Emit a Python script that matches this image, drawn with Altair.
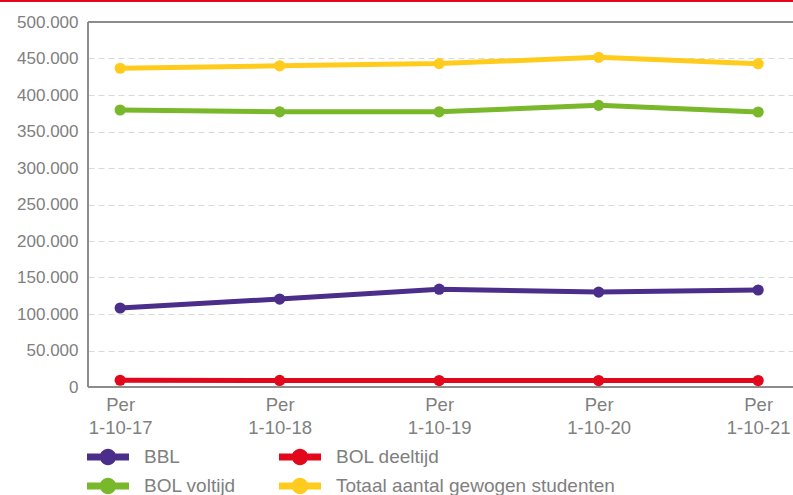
import altair as alt
import pandas as pd

# Peildata (x-as) en aantallen per onderwijsvorm
periods = ["Per 1-10-17", "Per 1-10-18", "Per 1-10-19", "Per 1-10-20", "Per 1-10-21"]
series_names = ["BBL", "BOL deeltijd", "BOL voltijd", "Totaal aantal gewogen studenten"]
bbl = [108200, 120500, 134000, 130000, 132900]
bol_deeltijd = [9200, 9000, 8800, 8800, 8800]
bol_voltijd = [379500, 377000, 377000, 385800, 376700]
totaal = [436600, 440000, 443000, 451600, 442900]
colors = ["#4b2e8a", "#e2071b", "#78b82a", "#ffcc1e"]

rows = []
for name, vals in zip(series_names, [bbl, bol_deeltijd, bol_voltijd, totaal]):
    for p, v in zip(periods, vals):
        rows.append({"periode": p, "reeks": name, "aantal": v})
df = pd.DataFrame(rows)

label_font = "Liberation Sans"
grey = "#808080"

# legend symbol: thick line with a filled dot in the middle
legend_symbol = (
    "M-1,-0.17 H1 V0.17 H-1 Z "
    "M-0.39,0 A0.39,0.39 0 1,1 0.39,0 A0.39,0.39 0 1,1 -0.39,0 Z"
)

x_enc = alt.X(
    "periode:N",
    sort=periods,
    scale=alt.Scale(type="point", padding=0.21, align=0.48),
    axis=alt.Axis(
        title=None,
        labelAngle=0,
        labelExpr="split(datum.label, ' ')",
        labelFont=label_font,
        labelFontSize=18.5,
        labelColor=grey,
        labelLineHeight=23,
        labelPadding=8,
        labelBaseline="top",
        ticks=False,
        domain=False,
        grid=False,
    ),
)
y_enc = alt.Y(
    "aantal:Q",
    scale=alt.Scale(domain=[0, 500000], nice=False),
    axis=alt.Axis(
        title=None,
        values=[0, 50000, 100000, 150000, 200000, 250000, 300000, 350000, 400000, 450000, 500000],
        labelExpr="replace(format(datum.value, ',d'), /,/g, '.')",
        labelFont=label_font,
        labelFontSize=17,
        labelColor=grey,
        labelPadding=10,
        ticks=False,
        domain=False,
        grid=True,
        gridColor="#d9d9d9",
        gridDash=[6, 4],
        gridWidth=1.2,
    ),
)
color_enc = alt.Color(
    "reeks:N",
    sort=series_names,
    scale=alt.Scale(domain=series_names, range=colors),
    legend=alt.Legend(
        title=None,
        orient="none",
        legendX=-1,
        legendY=422,
        direction="horizontal",
        columns=2,
        columnPadding=43,
        rowPadding=3,
        clipHeight=26,
        symbolType=legend_symbol,
        symbolSize=1764,
        symbolStrokeWidth=0,
        symbolOpacity=1,
        labelFont=label_font,
        labelFontSize=19,
        labelColor=grey,
        labelOffset=15,
        labelLimit=400,
    ),
)

points = alt.Chart(df).mark_point(filled=True, size=125, opacity=1).encode(
    x=x_enc, y=y_enc, color=color_enc
)
lines = alt.Chart(df).mark_line(strokeWidth=5).encode(
    x=x_enc, y=y_enc, color=color_enc
)

# plot frame: left, top and bottom edges
frame = alt.Chart(df).mark_rule(color="#8c8c8c", strokeWidth=1.5).encode(
    x=alt.value(0), x2=alt.value(0), y=alt.value(0), y2=alt.value(365)
)
frame_top = alt.Chart(df).mark_rule(color="#8c8c8c", strokeWidth=1.5).encode(
    x=alt.value(0), x2=alt.value(705), y=alt.value(0)
)
frame_bottom = alt.Chart(df).mark_rule(color="#8c8c8c", strokeWidth=1.5).encode(
    x=alt.value(0), x2=alt.value(705), y=alt.value(365)
)
# red accent line across the top of the figure
accent = alt.Chart(df).mark_rule(color="#e2071b", strokeWidth=2).encode(
    x=alt.value(-88), x2=alt.value(705), y=alt.value(-21)
)

chart = (
    alt.layer(frame, frame_top, frame_bottom, accent, points, lines)
    .properties(
        width=705,
        height=365,
        autosize=alt.AutoSizeParams(type="none"),
        padding={"left": 88, "top": 22, "right": 0, "bottom": 108},
    )
    .configure_view(stroke=None)
    .configure(background="white")
)

chart.save("out.html", embed_options={"renderer": "svg", "actions": False})
